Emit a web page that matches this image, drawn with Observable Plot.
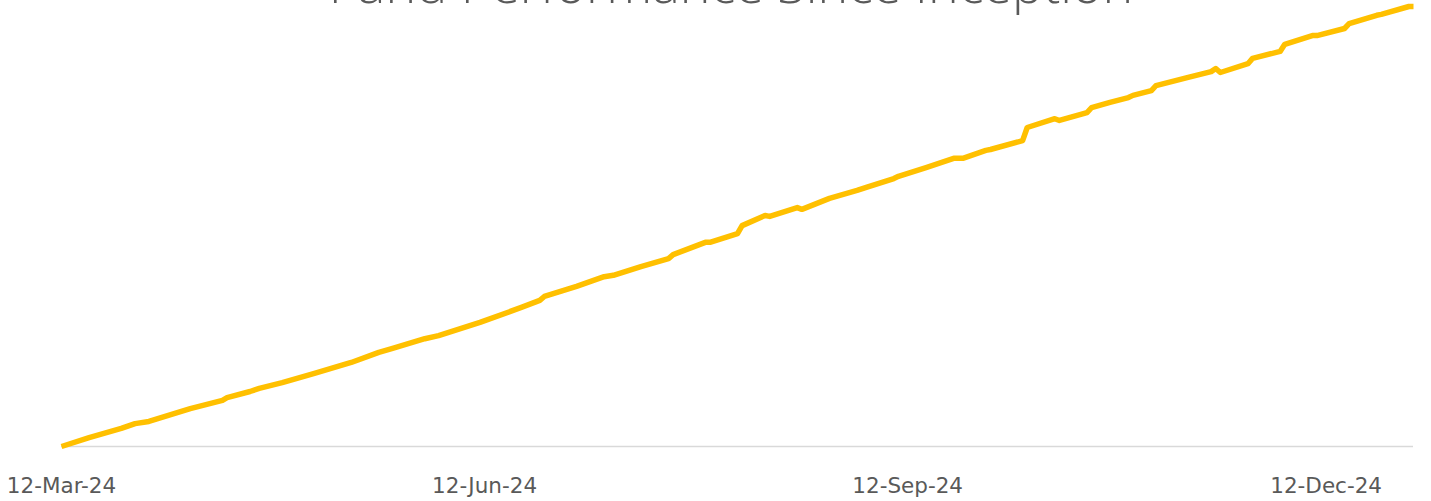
<!DOCTYPE html>
<html>
<head>
<meta charset="utf-8">
<script src="https://cdn.jsdelivr.net/npm/d3@7"></script>
<script src="https://cdn.jsdelivr.net/npm/@observablehq/plot@0.6"></script>
<style>
  html, body { margin: 0; padding: 0; background: #fff; overflow: hidden; }
  #wrap { position: relative; width: 1431px; height: 501px; }
  #title { position: absolute; left: 0; width: 1462px; top: -43px; text-align: center;
           font-family: "Open Sans", sans-serif; font-weight: 300; font-size: 52px; line-height: 1; color: #595959; white-space: nowrap; }
  #chart { position: absolute; left: 0; top: 0; }
</style>
</head>
<body>
<div id="wrap">
  <div id="chart"></div>
  <div id="title">Fund Performance Since Inception</div>
</div>
<script>
const titleText = "Fund Performance Since Inception";
const dates = ["2024-03-12","2024-03-18","2024-03-25","2024-03-28","2024-03-31","2024-04-09","2024-04-16","2024-04-17","2024-04-22","2024-04-24","2024-04-29","2024-05-06","2024-05-14","2024-05-20","2024-05-23","2024-05-30","2024-06-02","2024-06-11","2024-06-20","2024-06-24","2024-06-25","2024-07-02","2024-07-08","2024-07-10","2024-07-16","2024-07-22","2024-07-23","2024-07-30","2024-07-31","2024-08-06","2024-08-07","2024-08-12","2024-08-13","2024-08-19","2024-08-20","2024-08-26","2024-08-29","2024-09-01","2024-09-03","2024-09-09","2024-09-10","2024-09-16","2024-09-22","2024-09-24","2024-09-29","2024-09-30","2024-10-07","2024-10-08","2024-10-14","2024-10-15","2024-10-21","2024-10-22","2024-10-26","2024-10-30","2024-10-31","2024-11-04","2024-11-05","2024-11-12","2024-11-17","2024-11-18","2024-11-19","2024-11-25","2024-11-26","2024-12-02","2024-12-03","2024-12-09","2024-12-10","2024-12-16","2024-12-17","2024-12-23","2024-12-24","2024-12-30","2024-12-31"];
const returns = [0.00,0.20,0.41,0.52,0.57,0.86,1.05,1.11,1.25,1.32,1.45,1.66,1.91,2.14,2.23,2.45,2.52,2.82,3.16,3.32,3.41,3.64,3.86,3.89,4.09,4.27,4.36,4.64,4.64,4.84,5.02,5.25,5.23,5.43,5.39,5.64,5.73,5.82,5.89,6.09,6.14,6.34,6.55,6.55,6.73,6.75,6.95,7.25,7.45,7.41,7.59,7.70,7.82,7.93,7.98,8.09,8.20,8.39,8.52,8.59,8.50,8.70,8.82,8.98,9.14,9.34,9.34,9.50,9.61,9.80,9.82,10.00,10.00];
const tickDates = ["2024-03-12","2024-06-12","2024-09-12","2024-12-12"];

const parse = d3.utcParse("%Y-%m-%d");
const data = dates.map((d, i) => ({date: parse(d), value: returns[i]}));
const ticks = tickDates.map(parse);
const fmt = d3.utcFormat("%d-%b-%y");

const chart = Plot.plot({
  width: 1431,
  height: 501,
  marginLeft: 61,
  marginRight: 18,
  marginTop: 6,
  marginBottom: 55,
  style: {fontFamily: "'DejaVu Sans', sans-serif", fontSize: "21.5px", color: "#595959", background: "#fff"},
  x: {type: "utc", domain: [parse("2024-03-12"), parse("2024-12-31")], ticks: ticks, tickFormat: fmt, tickSize: 0, tickPadding: 31, label: null},
  y: {domain: [0, 10], axis: null},
  marks: [
    Plot.ruleY([0], {stroke: "#d9d9d9", strokeWidth: 1.5}),
    Plot.line(data, {x: "date", y: "value", stroke: "#FFC000", strokeWidth: 5.5, strokeLinejoin: "round", strokeLinecap: "butt"})
  ]
});
document.getElementById("chart").appendChild(chart);
</script>
</body>
</html>
